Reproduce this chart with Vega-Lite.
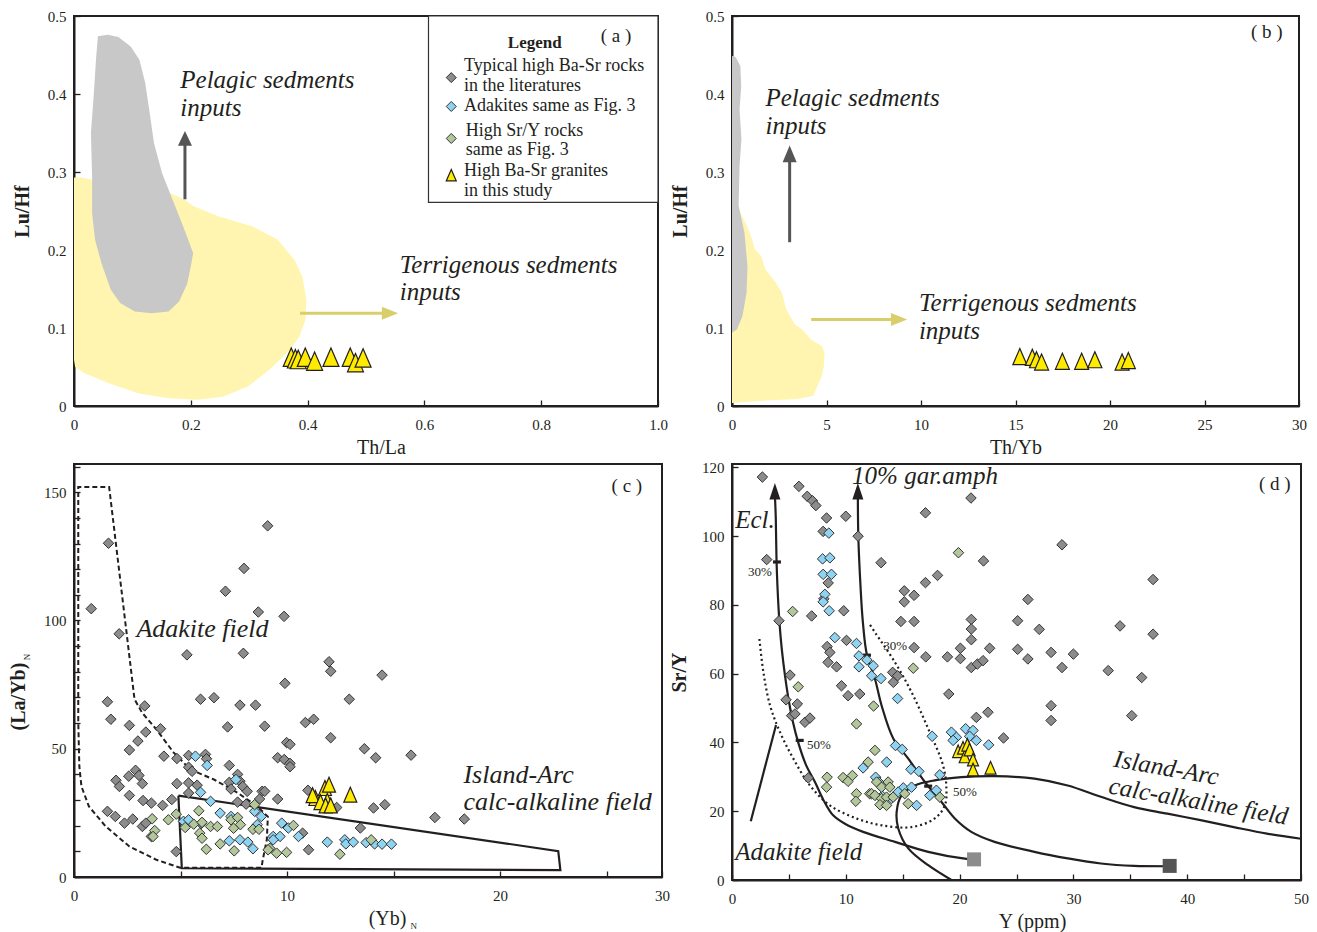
{
  "$schema": "https://vega.github.io/schema/vega-lite/v6.json",
  "background": "white",
  "padding": {"left": 7, "top": 8, "right": 10, "bottom": 5},
  "config": {
    "font": "Liberation Serif",
    "view": {"stroke": "#231f20", "strokeWidth": 2},
    "axis": {"grid": false, "domainColor": "#231f20", "domainWidth": 2, "tickColor": "#231f20", "tickWidth": 1.3, "tickSize": -6, "labelPadding": 14, "labelFontSize": 15, "labelColor": "#231f20", "labelFlush": false, "labelOverlap": false, "titleFontSize": 20, "titleColor": "#231f20", "titleFontWeight": "normal"},
    "axisY": {"titleFontWeight": "bold", "titlePadding": 15},
    "axisX": {"titlePadding": 5, "labelPadding": 17},
    "text": {"color": "#231f20"}
  },
  "columns": 2,
  "bounds": "flush",
  "spacing": {"row": 58, "column": 70},
  "concat": [
    {
      "width": 584,
      "height": 390,
      "encoding": {
        "x": {"field": "x", "type": "quantitative", "scale": {"domain": [0, 1], "nice": false, "zero": false}, "axis": {"title": "Th/La", "titleX": 307, "values": [0, 0.2, 0.4, 0.6, 0.8, 1], "labelExpr": "datum.value == 0 ? '0' : format(datum.value, '.1f')"}},
        "y": {"field": "y", "type": "quantitative", "scale": {"domain": [0, 0.5], "nice": false, "zero": false}, "axis": {"title": "Lu/Hf", "values": [0, 0.1, 0.2, 0.3, 0.4, 0.5], "labelExpr": "datum.value == 0 ? '0' : format(datum.value, '.1f')"}}
      },
      "layer": [
        {
          "data": {"values": [{"x":0,"y":0.293},{"x":0.014,"y":0.293},{"x":0.03,"y":0.29},{"x":0.1,"y":0.28},{"x":0.165,"y":0.273},{"x":0.19,"y":0.264},{"x":0.205,"y":0.256},{"x":0.248,"y":0.243},{"x":0.306,"y":0.23},{"x":0.349,"y":0.213},{"x":0.378,"y":0.187},{"x":0.391,"y":0.166},{"x":0.398,"y":0.136},{"x":0.396,"y":0.11},{"x":0.386,"y":0.089},{"x":0.37,"y":0.072},{"x":0.334,"y":0.046},{"x":0.298,"y":0.025},{"x":0.255,"y":0.012},{"x":0.212,"y":0.008},{"x":0.162,"y":0.01},{"x":0.111,"y":0.016},{"x":0.061,"y":0.029},{"x":0.018,"y":0.042},{"x":0.002,"y":0.05},{"x":0,"y":0.059}]},
          "mark": {"type": "line", "fill": "#fff5b1", "strokeWidth": 0},
          "encoding": {"order": {"value": null}}
        },
        {
          "data": {"values": [{"x":0.041,"y":0.474},{"x":0.058,"y":0.476},{"x":0.076,"y":0.473},{"x":0.097,"y":0.461},{"x":0.112,"y":0.444},{"x":0.122,"y":0.414},{"x":0.129,"y":0.379},{"x":0.137,"y":0.337},{"x":0.151,"y":0.298},{"x":0.169,"y":0.264},{"x":0.187,"y":0.23},{"x":0.204,"y":0.196},{"x":0.201,"y":0.183},{"x":0.194,"y":0.157},{"x":0.18,"y":0.134},{"x":0.162,"y":0.121},{"x":0.133,"y":0.119},{"x":0.104,"y":0.121},{"x":0.079,"y":0.132},{"x":0.063,"y":0.149},{"x":0.047,"y":0.183},{"x":0.036,"y":0.213},{"x":0.031,"y":0.247},{"x":0.031,"y":0.294},{"x":0.029,"y":0.35},{"x":0.034,"y":0.401},{"x":0.038,"y":0.448}]},
          "mark": {"type": "line", "fill": "#c8c8c8", "strokeWidth": 0},
          "encoding": {"order": {"value": null}}
        },
        {
          "data": {"values": [{"x":0.19,"y":0.265,"x2":0.19,"y2":0.34}]},
          "mark": {"type": "rule", "stroke": "#555555", "strokeWidth": 3},
          "encoding": {"x2": {"field": "x2"}, "y2": {"field": "y2"}}
        },
        {
          "data": {"values": [{"x":0.19,"y":0.3526}]},
          "mark": {"type": "point", "shape": "M0,0L-1,2.1L1,2.1Z", "filled": true, "fill": "#555555", "strokeWidth": 0, "size": 196, "opacity": 1}
        },
        {
          "data": {"values": [{"x":0.387,"y":0.119,"x2":0.535,"y2":0.119}]},
          "mark": {"type": "rule", "stroke": "#d8cf6c", "strokeWidth": 3},
          "encoding": {"x2": {"field": "x2"}, "y2": {"field": "y2"}}
        },
        {
          "data": {"values": [{"x":0.555,"y":0.119}]},
          "mark": {"type": "point", "shape": "M0,0L-2.5,-1L-2.5,1Z", "filled": true, "fill": "#d8cf6c", "strokeWidth": 0, "size": 169, "opacity": 1}
        },
        {
          "data": {"values": [{"x":0.182,"y":0.4175,"t":"Pelagic sedments"},{"x":0.182,"y":0.3825,"t":"inputs"},{"x":0.5577,"y":0.1805,"t":"Terrigenous sedments"},{"x":0.5577,"y":0.1456,"t":"inputs"}]},
          "mark": {"type": "text", "fontStyle": "italic", "fontSize": 25, "align": "left", "baseline": "middle"},
          "encoding": {"text": {"field": "t"}}
        },
        {
          "data": {"values": [{"x":0.372,"y":0.061},{"x":0.379,"y":0.059},{"x":0.384,"y":0.058},{"x":0.396,"y":0.061},{"x":0.412,"y":0.056},{"x":0.44,"y":0.061},{"x":0.473,"y":0.061},{"x":0.482,"y":0.054},{"x":0.495,"y":0.06}]},
          "mark": {"type": "point", "shape": "M0,-1.3L-1,1L1,1Z", "filled": true, "fill": "#ffeb00", "stroke": "#231f20", "strokeWidth": 1.2, "size": 256, "opacity": 1}
        },
        {
          "data": {"values": [{"x":0.607,"x2":1,"y":0.261,"y2":0.5}]},
          "mark": {"type": "rect", "fill": "white", "stroke": "#333333", "strokeWidth": 1.2},
          "encoding": {"x2": {"field": "x2"}, "y2": {"field": "y2"}}
        },
        {
          "data": {"values": [{"x":0.646,"y":0.421,"g":"lit"},{"x":0.646,"y":0.384,"g":"ada"},{"x":0.646,"y":0.343,"g":"srY"}]},
          "mark": {"type": "point", "shape": "diamond", "filled": true, "stroke": "#333333", "strokeWidth": 1, "size": 100, "opacity": 1},
          "encoding": {"fill": {"field": "g", "type": "nominal", "scale": {"domain": ["lit", "ada", "srY"], "range": ["#8c8c8c", "#8fd3f2", "#b3c89a"]}, "legend": null}}
        },
        {
          "data": {"values": [{"x":0.646,"y":0.295}]},
          "mark": {"type": "point", "shape": "M0,-1.3L-1,1L1,1Z", "filled": true, "fill": "#ffeb00", "stroke": "#231f20", "strokeWidth": 1.2, "size": 100, "opacity": 1}
        },
        {
          "data": {"values": [{"x":0.668,"y":0.436,"t":"Typical high Ba-Sr rocks"},{"x":0.668,"y":0.41,"t":"in the literatures"},{"x":0.668,"y":0.384,"t":"Adakites same as Fig. 3"},{"x":0.671,"y":0.353,"t":"High Sr/Y rocks"},{"x":0.671,"y":0.328,"t":"same as Fig. 3"},{"x":0.668,"y":0.301,"t":"High Ba-Sr granites"},{"x":0.668,"y":0.276,"t":"in this study"}]},
          "mark": {"type": "text", "fontSize": 18, "align": "left", "baseline": "middle"},
          "encoding": {"text": {"field": "t"}}
        },
        {
          "data": {"values": [{"x":0.789,"y":0.466,"t":"Legend"}]},
          "mark": {"type": "text", "fontSize": 17, "fontWeight": "bold", "align": "center", "baseline": "middle"},
          "encoding": {"text": {"field": "t"}}
        },
        {
          "data": {"values": [{"x":0.928,"y":0.474,"t":"( a )"}]},
          "mark": {"type": "text", "fontSize": 19, "align": "center", "baseline": "middle"},
          "encoding": {"text": {"field": "t"}}
        }
      ]
    },
    {
      "width": 567,
      "height": 390,
      "encoding": {
        "x": {"field": "x", "type": "quantitative", "scale": {"domain": [0, 30], "nice": false, "zero": false}, "axis": {"title": "Th/Yb", "values": [0, 5, 10, 15, 20, 25, 30]}},
        "y": {"field": "y", "type": "quantitative", "scale": {"domain": [0, 0.5], "nice": false, "zero": false}, "axis": {"title": "Lu/Hf", "values": [0, 0.1, 0.2, 0.3, 0.4, 0.5], "labelExpr": "datum.value == 0 ? '0' : format(datum.value, '.1f')"}}
      },
      "layer": [
        {
          "data": {"values": [{"x":0,"y":0.246},{"x":0.44,"y":0.248},{"x":0.77,"y":0.232},{"x":1.06,"y":0.214},{"x":1.21,"y":0.201},{"x":1.55,"y":0.192},{"x":1.77,"y":0.175},{"x":2.32,"y":0.158},{"x":2.65,"y":0.145},{"x":2.87,"y":0.124},{"x":3.31,"y":0.105},{"x":3.75,"y":0.097},{"x":4.19,"y":0.085},{"x":4.75,"y":0.077},{"x":4.9,"y":0.068},{"x":4.86,"y":0.051},{"x":4.75,"y":0.038},{"x":4.53,"y":0.026},{"x":4.3,"y":0.013},{"x":3.53,"y":0.009},{"x":1.77,"y":0.007},{"x":0.66,"y":0.005},{"x":0,"y":0.004}]},
          "mark": {"type": "line", "fill": "#fff5b1", "strokeWidth": 0},
          "encoding": {"order": {"value": null}}
        },
        {
          "data": {"values": [{"x":0,"y":0.449},{"x":0.2,"y":0.447},{"x":0.44,"y":0.436},{"x":0.49,"y":0.41},{"x":0.4,"y":0.38},{"x":0.5,"y":0.342},{"x":0.4,"y":0.308},{"x":0.35,"y":0.257},{"x":0.66,"y":0.222},{"x":0.82,"y":0.179},{"x":0.77,"y":0.145},{"x":0.55,"y":0.115},{"x":0.26,"y":0.098},{"x":0,"y":0.094}]},
          "mark": {"type": "line", "fill": "#c8c8c8", "strokeWidth": 0},
          "encoding": {"order": {"value": null}}
        },
        {
          "data": {"values": [{"x":3.05,"y":0.21,"x2":3.05,"y2":0.315}]},
          "mark": {"type": "rule", "stroke": "#555555", "strokeWidth": 3},
          "encoding": {"x2": {"field": "x2"}, "y2": {"field": "y2"}}
        },
        {
          "data": {"values": [{"x":3.05,"y":0.334}]},
          "mark": {"type": "point", "shape": "M0,0L-1,2.4L1,2.4Z", "filled": true, "fill": "#555555", "strokeWidth": 0, "size": 196, "opacity": 1}
        },
        {
          "data": {"values": [{"x":4.19,"y":0.111,"x2":8.5,"y2":0.111}]},
          "mark": {"type": "rule", "stroke": "#d8cf6c", "strokeWidth": 3},
          "encoding": {"x2": {"field": "x2"}, "y2": {"field": "y2"}}
        },
        {
          "data": {"values": [{"x":9.27,"y":0.111}]},
          "mark": {"type": "point", "shape": "M0,0L-2.5,-1L-2.5,1Z", "filled": true, "fill": "#d8cf6c", "strokeWidth": 0, "size": 169, "opacity": 1}
        },
        {
          "data": {"values": [{"x":1.77,"y":0.3944,"t":"Pelagic sedments"},{"x":1.77,"y":0.3592,"t":"inputs"},{"x":9.89,"y":0.1316,"t":"Terrigenous sedments"},{"x":9.89,"y":0.0966,"t":"inputs"}]},
          "mark": {"type": "text", "fontStyle": "italic", "fontSize": 25, "align": "left", "baseline": "middle"},
          "encoding": {"text": {"field": "t"}}
        },
        {
          "data": {"values": [{"x":15.23,"y":0.062},{"x":15.89,"y":0.061},{"x":16.11,"y":0.058},{"x":16.38,"y":0.055},{"x":17.48,"y":0.056},{"x":18.5,"y":0.056},{"x":19.2,"y":0.058},{"x":20.64,"y":0.055},{"x":20.97,"y":0.057}]},
          "mark": {"type": "point", "shape": "M0,-1.3L-1,1L1,1Z", "filled": true, "fill": "#ffeb00", "stroke": "#231f20", "strokeWidth": 1.2, "size": 196, "opacity": 1}
        },
        {
          "data": {"values": [{"x":28.3,"y":0.479,"t":"( b )"}]},
          "mark": {"type": "text", "fontSize": 19, "align": "center", "baseline": "middle"},
          "encoding": {"text": {"field": "t"}}
        }
      ]
    },
    {
      "width": 588,
      "height": 413,
      "encoding": {
        "x": {"field": "x", "type": "quantitative", "scale": {"domain": [0, 27.6], "nice": false, "zero": false}, "axis": {"title": "(Yb)", "titleX": 313, "values": [0, 5, 10, 15, 20, 25, 27.6], "labelExpr": "datum.value > 27 ? '30' : (datum.value % 10 == 0 ? datum.label : '')"}},
        "y": {"field": "y", "type": "quantitative", "scale": {"domain": [0, 161], "nice": false, "zero": false}, "axis": {"title": "(La/Yb)", "titleY": 232, "values": [0, 10, 20, 30, 40, 50, 60, 70, 80, 90, 100, 110, 120, 130, 140, 150, 160], "labelExpr": "datum.value % 50 == 0 ? datum.label : ''"}}
      },
      "layer": [
        {
          "data": {"values": [{"x":0.2,"y":60.8},{"x":0.2,"y":152},{"x":1.65,"y":152},{"x":2.84,"y":69.3},{"x":3.2,"y":64},{"x":3.86,"y":57.6},{"x":4.67,"y":48.6},{"x":5.46,"y":41.9},{"x":6.57,"y":38.0},{"x":7.67,"y":32.9},{"x":8.62,"y":27.4},{"x":9.1,"y":23.5},{"x":9.05,"y":14.5},{"x":8.86,"y":6.7},{"x":8.8,"y":3.6},{"x":4.98,"y":3.6},{"x":3.87,"y":6.7},{"x":2.6,"y":11.9},{"x":1.49,"y":19.7},{"x":0.7,"y":27.5},{"x":0.35,"y":35.3},{"x":0.25,"y":43.2},{"x":0.2,"y":60.8}]},
          "mark": {"type": "line", "stroke": "#231f20", "strokeWidth": 2, "strokeDash": [5, 3]},
          "encoding": {"order": {"value": null}}
        },
        {
          "data": {"values": [{"x":4.9,"y":31.7},{"x":22.73,"y":10.1},{"x":22.83,"y":2.7},{"x":5.06,"y":3.4},{"x":4.9,"y":31.7}]},
          "mark": {"type": "line", "stroke": "#231f20", "strokeWidth": 2.2},
          "encoding": {"order": {"value": null}}
        },
        {
          "data": {"values": [
            {"x":9.09,"y":136.9,"g":"lit"},{"x":1.62,"y":130.1,"g":"lit"},{"x":7.98,"y":120.3,"g":"lit"},{"x":7.11,"y":111.4,"g":"lit"},{"x":0.81,"y":104.6,"g":"lit"},{"x":8.65,"y":103.3,"g":"lit"},{"x":9.86,"y":101.6,"g":"lit"},{"x":2.12,"y":94.8,"g":"lit"},{"x":5.3,"y":86.6,"g":"lit"},{"x":7.95,"y":87.2,"g":"lit"},{"x":11.97,"y":83.9,"g":"lit"},{"x":12.05,"y":80.2,"g":"lit"},{"x":14.46,"y":78.7,"g":"lit"},{"x":9.9,"y":75.5,"g":"lit"},{"x":1.57,"y":68.3,"g":"lit"},{"x":3.32,"y":66.7,"g":"lit"},{"x":5.94,"y":69.3,"g":"lit"},{"x":6.57,"y":69.9,"g":"lit"},{"x":7.79,"y":67.0,"g":"lit"},{"x":8.52,"y":67.0,"g":"lit"},{"x":12.92,"y":69.3,"g":"lit"},{"x":1.73,"y":61.5,"g":"lit"},{"x":10.86,"y":60.2,"g":"lit"},{"x":11.25,"y":61.5,"g":"lit"},{"x":2.6,"y":59.1,"g":"lit"},{"x":3.37,"y":56.5,"g":"lit"},{"x":4.06,"y":57.8,"g":"lit"},{"x":7.21,"y":58.5,"g":"lit"},{"x":8.95,"y":58.8,"g":"lit"},{"x":3.0,"y":53.0,"g":"lit"},{"x":12.05,"y":54.3,"g":"lit"},{"x":9.98,"y":52.4,"g":"lit"},{"x":10.14,"y":51.7,"g":"lit"},{"x":13.63,"y":50.0,"g":"lit"},{"x":2.6,"y":49.5,"g":"lit"},{"x":4.22,"y":47.1,"g":"lit"},{"x":4.83,"y":46.2,"g":"lit"},{"x":5.38,"y":47.4,"g":"lit"},{"x":6.17,"y":47.8,"g":"lit"},{"x":6.22,"y":46.1,"g":"lit"},{"x":9.56,"y":46.5,"g":"lit"},{"x":9.87,"y":45.8,"g":"lit"},{"x":10.14,"y":44.3,"g":"lit"},{"x":10.14,"y":43.0,"g":"lit"},{"x":14.16,"y":46.5,"g":"lit"},{"x":15.82,"y":47.5,"g":"lit"},{"x":5.38,"y":42.8,"g":"lit"},{"x":5.54,"y":41.2,"g":"lit"},{"x":7.29,"y":43.5,"g":"lit"},{"x":7.68,"y":40.0,"g":"lit"},{"x":2.89,"y":41.6,"g":"lit"},{"x":3.05,"y":39.6,"g":"lit"},{"x":1.97,"y":37.7,"g":"lit"},{"x":2.13,"y":35.3,"g":"lit"},{"x":2.57,"y":39.3,"g":"lit"},{"x":3.21,"y":36.4,"g":"lit"},{"x":4.83,"y":36.4,"g":"lit"},{"x":5.38,"y":36.7,"g":"lit"},{"x":5.78,"y":35.8,"g":"lit"},{"x":7.29,"y":36.9,"g":"lit"},{"x":7.79,"y":37.3,"g":"lit"},{"x":7.92,"y":35.3,"g":"lit"},{"x":8.13,"y":33.4,"g":"lit"},{"x":7.37,"y":34.3,"g":"lit"},{"x":8.83,"y":33.4,"g":"lit"},{"x":8.71,"y":30.4,"g":"lit"},{"x":5.38,"y":32.7,"g":"lit"},{"x":2.6,"y":31.8,"g":"lit"},{"x":3.24,"y":29.8,"g":"lit"},{"x":3.63,"y":28.8,"g":"lit"},{"x":4.16,"y":27.9,"g":"lit"},{"x":4.59,"y":30.2,"g":"lit"},{"x":7.68,"y":29.2,"g":"lit"},{"x":8.08,"y":28.4,"g":"lit"},{"x":1.57,"y":25.6,"g":"lit"},{"x":1.94,"y":23.6,"g":"lit"},{"x":2.37,"y":21.0,"g":"lit"},{"x":2.76,"y":22.6,"g":"lit"},{"x":3.21,"y":19.7,"g":"lit"},{"x":3.37,"y":21.0,"g":"lit"},{"x":3.63,"y":15.8,"g":"lit"},{"x":4.8,"y":9.9,"g":"lit"},{"x":5.97,"y":20.8,"g":"lit"},{"x":8.95,"y":33.4,"g":"lit"},{"x":9.56,"y":30.4,"g":"lit"},{"x":10.98,"y":33.8,"g":"lit"},{"x":12.33,"y":27.1,"g":"lit"},{"x":14.06,"y":26.9,"g":"lit"},{"x":14.59,"y":28.2,"g":"lit"},{"x":16.94,"y":23.2,"g":"lit"},{"x":18.32,"y":22.6,"g":"lit"},{"x":13.44,"y":19.1,"g":"lit"},{"x":10.73,"y":17.1,"g":"lit"},{"x":11.01,"y":10.6,"g":"lit"},
            {"x":5.7,"y":47.1,"g":"ada"},{"x":6.25,"y":43.5,"g":"ada"},{"x":7.6,"y":38.0,"g":"ada"},{"x":5.94,"y":33.0,"g":"ada"},{"x":6.41,"y":29.5,"g":"ada"},{"x":8.48,"y":25.6,"g":"ada"},{"x":8.79,"y":23.6,"g":"ada"},{"x":6.86,"y":24.9,"g":"ada"},{"x":7.37,"y":23.6,"g":"ada"},{"x":5.14,"y":21.7,"g":"ada"},{"x":5.38,"y":22.3,"g":"ada"},{"x":8.6,"y":20.4,"g":"ada"},{"x":7.29,"y":14.1,"g":"ada"},{"x":7.79,"y":14.5,"g":"ada"},{"x":8.16,"y":13.6,"g":"ada"},{"x":8.4,"y":11.0,"g":"ada"},{"x":9.35,"y":15.8,"g":"ada"},{"x":9.75,"y":21.0,"g":"ada"},{"x":10.06,"y":19.1,"g":"ada"},{"x":9.67,"y":15.8,"g":"ada"},{"x":9.35,"y":14.5,"g":"ada"},{"x":10.54,"y":15.8,"g":"ada"},{"x":11.89,"y":13.6,"g":"ada"},{"x":12.71,"y":14.5,"g":"ada"},{"x":12.76,"y":12.9,"g":"ada"},{"x":13.11,"y":13.6,"g":"ada"},{"x":13.71,"y":13.4,"g":"ada"},{"x":14.11,"y":12.9,"g":"ada"},{"x":14.46,"y":12.8,"g":"ada"},{"x":14.9,"y":12.8,"g":"ada"},
            {"x":5.86,"y":25.8,"g":"srY"},{"x":3.67,"y":22.7,"g":"srY"},{"x":4.43,"y":22.3,"g":"srY"},{"x":4.8,"y":24.5,"g":"srY"},{"x":5.22,"y":19.3,"g":"srY"},{"x":5.62,"y":20.6,"g":"srY"},{"x":6.01,"y":21.3,"g":"srY"},{"x":6.41,"y":19.7,"g":"srY"},{"x":6.73,"y":19.7,"g":"srY"},{"x":3.79,"y":18.1,"g":"srY"},{"x":3.71,"y":15.8,"g":"srY"},{"x":5.9,"y":17.1,"g":"srY"},{"x":6.01,"y":15.1,"g":"srY"},{"x":7.37,"y":22.3,"g":"srY"},{"x":7.68,"y":23.2,"g":"srY"},{"x":7.81,"y":20.4,"g":"srY"},{"x":7.49,"y":19.0,"g":"srY"},{"x":8.4,"y":18.6,"g":"srY"},{"x":8.68,"y":18.6,"g":"srY"},{"x":8.48,"y":28.2,"g":"srY"},{"x":6.21,"y":10.8,"g":"srY"},{"x":6.86,"y":12.9,"g":"srY"},{"x":7.52,"y":10.2,"g":"srY"},{"x":9.19,"y":11.2,"g":"srY"},{"x":10.3,"y":20.1,"g":"srY"},{"x":12.48,"y":8.9,"g":"srY"},{"x":13.95,"y":14.5,"g":"srY"},{"x":9.11,"y":10.6,"g":"srY"},{"x":9.51,"y":9.3,"g":"srY"},{"x":9.98,"y":9.6,"g":"srY"}
          ]},
          "mark": {"type": "point", "shape": "diamond", "filled": true, "stroke": "#333333", "strokeWidth": 1, "size": 110, "opacity": 1},
          "encoding": {"fill": {"field": "g", "type": "nominal", "scale": {"domain": ["lit", "ada", "srY"], "range": ["#8c8c8c", "#8fd3f2", "#b3c89a"]}, "legend": null}}
        },
        {
          "data": {"values": [{"x":11.33,"y":30.4},{"x":11.2,"y":31.5},{"x":11.78,"y":34.3},{"x":11.97,"y":35.6},{"x":11.89,"y":29.3},{"x":11.57,"y":28.8},{"x":11.81,"y":27.5},{"x":12.05,"y":27.5},{"x":12.97,"y":31.7}]},
          "mark": {"type": "point", "shape": "M0,-1.3L-1,1L1,1Z", "filled": true, "fill": "#ffeb00", "stroke": "#231f20", "strokeWidth": 1.2, "size": 169, "opacity": 1}
        },
        {
          "data": {"values": [{"x":2.93,"y":96.8,"t":"Adakite field"},{"x":18.28,"y":39.9,"t":"Island-Arc"},{"x":18.28,"y":29.4,"t":"calc-alkaline field"}]},
          "mark": {"type": "text", "fontStyle": "italic", "fontSize": 26, "align": "left", "baseline": "middle"},
          "encoding": {"text": {"field": "t"}}
        },
        {
          "data": {"values": [{"x":25.95,"y":152.3,"t":"( c )"}]},
          "mark": {"type": "text", "fontSize": 19, "align": "center", "baseline": "middle"},
          "encoding": {"text": {"field": "t"}}
        },
        {
          "data": {"values": [{"x":15.8,"y":-19.2,"t":"N"}]},
          "mark": {"type": "text", "fontSize": 9, "align": "left", "baseline": "middle"},
          "encoding": {"text": {"field": "t"}}
        },
        {
          "data": {"values": [{"x":-2.2,"y":85.8,"t":"N"}]},
          "mark": {"type": "text", "fontSize": 9, "angle": 270, "align": "center", "baseline": "middle"},
          "encoding": {"text": {"field": "t"}}
        }
      ]
    },
    {
      "width": 569,
      "height": 416,
      "encoding": {
        "x": {"field": "x", "type": "quantitative", "scale": {"domain": [0, 50], "nice": false, "zero": false}, "axis": {"title": "Y (ppm)", "titleX": 300, "values": [0, 5, 10, 15, 20, 25, 30, 35, 40, 45, 50], "labelExpr": "datum.value % 10 == 0 ? datum.label : ''"}},
        "y": {"field": "y", "type": "quantitative", "scale": {"domain": [0, 121], "nice": false, "zero": false}, "axis": {"title": "Sr/Y", "titlePadding": 12, "values": [0, 20, 40, 60, 80, 100, 120]}}
      },
      "layer": [
        {
          "data": {"values": [{"x":2.41,"y":70.1},{"x":2.76,"y":60.4},{"x":3.35,"y":50.7},{"x":4.22,"y":43.0},{"x":5.39,"y":35.3},{"x":6.85,"y":27.5},{"x":8.6,"y":21.7},{"x":10.94,"y":17.9},{"x":13.15,"y":15.9},{"x":15.78,"y":15.4},{"x":17.82,"y":17.9},{"x":18.7,"y":21.7},{"x":18.84,"y":26.6},{"x":18.55,"y":33.3},{"x":17.24,"y":44.0},{"x":15.78,"y":54.6},{"x":14.32,"y":63.3},{"x":12.57,"y":72.0},{"x":11.99,"y":74.9}]},
          "mark": {"type": "line", "stroke": "#231f20", "strokeWidth": 2.2, "strokeDash": [2, 3], "interpolate": "catmull-rom"},
          "encoding": {"order": {"value": null}}
        },
        {
          "data": {"values": [{"x":19.28,"y":0},{"x":17.24,"y":4.3},{"x":15.49,"y":9.2},{"x":14.61,"y":15.0},{"x":14.47,"y":19.8},{"x":14.9,"y":24.6},{"x":16.07,"y":27.5},{"x":17.82,"y":29.0},{"x":20.16,"y":29.9},{"x":23.07,"y":30.2},{"x":26.58,"y":29.5},{"x":29.5,"y":27.5},{"x":32.42,"y":24.2},{"x":35.33,"y":21.2},{"x":38.26,"y":19.3},{"x":41.17,"y":17.4},{"x":44.09,"y":15.4},{"x":47.0,"y":13.5},{"x":50,"y":12.0}]},
          "mark": {"type": "line", "stroke": "#231f20", "strokeWidth": 2.2, "interpolate": "catmull-rom"},
          "encoding": {"order": {"value": null}}
        },
        {
          "data": {"values": [{"x":3.77,"y":112},{"x":3.85,"y":105},{"x":3.91,"y":93.2},{"x":4.0,"y":85},{"x":4.16,"y":75.4},{"x":4.38,"y":67},{"x":4.66,"y":59.4},{"x":5.0,"y":52},{"x":5.35,"y":46},{"x":5.81,"y":40.1},{"x":6.5,"y":33.5},{"x":7.29,"y":28.5},{"x":8.0,"y":23.5},{"x":8.89,"y":18.8},{"x":10.0,"y":16.2},{"x":11.52,"y":14.0},{"x":14.32,"y":11.1},{"x":17.24,"y":8.2},{"x":20.45,"y":6.2},{"x":21.27,"y":6.0}]},
          "mark": {"type": "line", "stroke": "#231f20", "strokeWidth": 2.2, "interpolate": "catmull-rom"},
          "encoding": {"order": {"value": null}}
        },
        {
          "data": {"values": [{"x":11.06,"y":112},{"x":11.1,"y":100},{"x":11.3,"y":85},{"x":11.5,"y":75},{"x":11.86,"y":65.4},{"x":12.57,"y":58.4},{"x":13.15,"y":50.7},{"x":14.18,"y":41.1},{"x":15.49,"y":35.3},{"x":16.95,"y":28.5},{"x":18.41,"y":22.7},{"x":19.58,"y":17.9},{"x":21.03,"y":14.0},{"x":23.07,"y":11.1},{"x":26.58,"y":8.2},{"x":29.5,"y":6.3},{"x":32.42,"y":4.8},{"x":35.33,"y":4.1},{"x":38.46,"y":4.0}]},
          "mark": {"type": "line", "stroke": "#231f20", "strokeWidth": 2.2, "interpolate": "catmull-rom"},
          "encoding": {"order": {"value": null}}
        },
        {
          "data": {"values": [{"x":1.65,"y":17.1},{"x":3.87,"y":45.1}]},
          "mark": {"type": "line", "stroke": "#231f20", "strokeWidth": 2.2},
          "encoding": {"order": {"value": null}}
        },
        {
          "data": {"values": [{"x":3.77,"y":115.5},{"x":11.06,"y":115.5}]},
          "mark": {"type": "point", "shape": "M0,0L-1,3L1,3Z", "filled": true, "fill": "#231f20", "strokeWidth": 0, "size": 121, "opacity": 1}
        },
        {
          "data": {"values": [{"x":3.95,"y":92.5},{"x":5.95,"y":40.6},{"x":11.86,"y":65.4},{"x":17.24,"y":27.3}]},
          "mark": {"type": "point", "shape": "M-1,-0.4L1,-0.4L1,0.4L-1,0.4Z", "filled": true, "fill": "#231f20", "strokeWidth": 0, "size": 64, "opacity": 1}
        },
        {
          "data": {"values": [{"x":21.27,"y":6.0}]},
          "mark": {"type": "point", "shape": "square", "filled": true, "fill": "#8c8c8c", "strokeWidth": 0, "size": 196, "opacity": 1}
        },
        {
          "data": {"values": [{"x":38.46,"y":4.1}]},
          "mark": {"type": "point", "shape": "square", "filled": true, "fill": "#555555", "strokeWidth": 0, "size": 196, "opacity": 1}
        },
        {
          "data": {"values": [
            {"x":2.67,"y":117.2,"g":"lit"},{"x":5.88,"y":114.5,"g":"lit"},{"x":6.61,"y":111.6,"g":"lit"},{"x":7.08,"y":110.3,"g":"lit"},{"x":7.37,"y":108.9,"g":"lit"},{"x":8.31,"y":105.3,"g":"lit"},{"x":10.0,"y":105.8,"g":"lit"},{"x":8.01,"y":101.4,"g":"lit"},{"x":11.08,"y":100.0,"g":"lit"},{"x":3.05,"y":93.2,"g":"lit"},{"x":8.45,"y":86.4,"g":"lit"},{"x":8.07,"y":81.8,"g":"lit"},{"x":9.82,"y":78.3,"g":"lit"},{"x":7.0,"y":76.8,"g":"lit"},{"x":4.13,"y":75.4,"g":"lit"},{"x":10.06,"y":69.7,"g":"lit"},{"x":8.36,"y":67.9,"g":"lit"},{"x":8.6,"y":66.2,"g":"lit"},{"x":8.44,"y":63.3,"g":"lit"},{"x":9.19,"y":62.0,"g":"lit"},{"x":5.1,"y":59.6,"g":"lit"},{"x":9.62,"y":56.5,"g":"lit"},{"x":10.2,"y":53.6,"g":"lit"},{"x":11.23,"y":54.1,"g":"lit"},{"x":4.75,"y":52.4,"g":"lit"},{"x":5.74,"y":51.2,"g":"lit"},{"x":5.24,"y":47.8,"g":"lit"},{"x":5.53,"y":48.3,"g":"lit"},{"x":6.41,"y":45.9,"g":"lit"},{"x":6.85,"y":47.1,"g":"lit"},{"x":6.7,"y":29.7,"g":"lit"},
            {"x":21.0,"y":111.1,"g":"lit"},{"x":17.0,"y":106.8,"g":"lit"},{"x":22.1,"y":92.8,"g":"lit"},{"x":13.1,"y":92.3,"g":"lit"},{"x":18.06,"y":88.6,"g":"lit"},{"x":17.0,"y":86.5,"g":"lit"},{"x":15.14,"y":84.1,"g":"lit"},{"x":16.0,"y":82.8,"g":"lit"},{"x":15.14,"y":80.9,"g":"lit"},{"x":14.84,"y":75.2,"g":"lit"},{"x":16.0,"y":75.2,"g":"lit"},{"x":21.03,"y":75.8,"g":"lit"},{"x":21.03,"y":73.0,"g":"lit"},{"x":21.03,"y":69.9,"g":"lit"},{"x":16.0,"y":67.6,"g":"lit"},{"x":17.03,"y":64.9,"g":"lit"},{"x":18.93,"y":64.9,"g":"lit"},{"x":20.07,"y":67.4,"g":"lit"},{"x":20.07,"y":64.4,"g":"lit"},{"x":22.64,"y":67.4,"g":"lit"},{"x":21.03,"y":61.8,"g":"lit"},{"x":21.56,"y":62.8,"g":"lit"},{"x":22.06,"y":63.8,"g":"lit"},{"x":19.05,"y":54.1,"g":"lit"},{"x":14.12,"y":60.4,"g":"lit"},{"x":14.55,"y":59.4,"g":"lit"},{"x":14.18,"y":57.5,"g":"lit"},{"x":21.47,"y":47.3,"g":"lit"},{"x":22.49,"y":48.8,"g":"lit"},{"x":23.86,"y":41.3,"g":"lit"},
            {"x":29.0,"y":97.5,"g":"lit"},{"x":37.0,"y":87.4,"g":"lit"},{"x":26.0,"y":81.6,"g":"lit"},{"x":25.1,"y":75.4,"g":"lit"},{"x":27.0,"y":72.9,"g":"lit"},{"x":34.1,"y":73.9,"g":"lit"},{"x":37.0,"y":71.5,"g":"lit"},{"x":25.1,"y":67.1,"g":"lit"},{"x":26.0,"y":64.3,"g":"lit"},{"x":28.04,"y":66.2,"g":"lit"},{"x":30.0,"y":65.7,"g":"lit"},{"x":29.0,"y":61.8,"g":"lit"},{"x":33.06,"y":60.9,"g":"lit"},{"x":36.0,"y":58.9,"g":"lit"},{"x":28.04,"y":50.7,"g":"lit"},{"x":28.04,"y":46.4,"g":"lit"},{"x":35.13,"y":47.8,"g":"lit"},
            {"x":8.51,"y":100.9,"g":"ada"},{"x":7.96,"y":93.4,"g":"ada"},{"x":8.6,"y":93.7,"g":"ada"},{"x":8.01,"y":88.9,"g":"ada"},{"x":8.74,"y":88.9,"g":"ada"},{"x":8.16,"y":83.1,"g":"ada"},{"x":8.01,"y":80.9,"g":"ada"},{"x":8.54,"y":78.3,"g":"ada"},{"x":9.04,"y":70.5,"g":"ada"},{"x":10.94,"y":68.8,"g":"ada"},{"x":11.16,"y":65.2,"g":"ada"},{"x":11.86,"y":64.0,"g":"ada"},{"x":11.16,"y":62.0,"g":"ada"},{"x":11.52,"y":32.6,"g":"ada"},{"x":12.41,"y":62.3,"g":"ada"},{"x":12.27,"y":59.4,"g":"ada"},{"x":13.09,"y":58.6,"g":"ada"},{"x":14.55,"y":52.8,"g":"ada"},{"x":17.59,"y":41.8,"g":"ada"},{"x":19.28,"y":43.0,"g":"ada"},{"x":19.72,"y":41.5,"g":"ada"},{"x":19.43,"y":40.6,"g":"ada"},{"x":20.53,"y":44.0,"g":"ada"},{"x":21.18,"y":43.5,"g":"ada"},{"x":21.47,"y":40.6,"g":"ada"},{"x":20.88,"y":41.8,"g":"ada"},{"x":22.55,"y":39.3,"g":"ada"},{"x":14.37,"y":39.1,"g":"ada"},{"x":14.96,"y":38.0,"g":"ada"},{"x":15.72,"y":32.2,"g":"ada"},{"x":16.42,"y":31.6,"g":"ada"},{"x":18.26,"y":30.6,"g":"ada"},{"x":13.59,"y":34.3,"g":"ada"},{"x":12.62,"y":29.9,"g":"ada"},{"x":12.9,"y":28.5,"g":"ada"},{"x":15.05,"y":26.8,"g":"ada"},{"x":15.78,"y":27.0,"g":"ada"},{"x":16.22,"y":21.7,"g":"ada"},{"x":17.38,"y":24.6,"g":"ada"},{"x":17.96,"y":26.1,"g":"ada"},{"x":13.2,"y":24.4,"g":"ada"},{"x":14.01,"y":23.7,"g":"ada"},{"x":14.6,"y":25.6,"g":"ada"},
            {"x":5.33,"y":78.1,"g":"srY"},{"x":5.82,"y":56.2,"g":"srY"},{"x":10.94,"y":45.4,"g":"srY"},{"x":8.36,"y":29.9,"g":"srY"},{"x":8.31,"y":27.0,"g":"srY"},{"x":9.76,"y":29.8,"g":"srY"},{"x":10.2,"y":28.7,"g":"srY"},{"x":10.58,"y":30.4,"g":"srY"},{"x":10.94,"y":25.1,"g":"srY"},{"x":10.88,"y":22.9,"g":"srY"},{"x":11.96,"y":34.3,"g":"srY"},{"x":12.1,"y":25.1,"g":"srY"},{"x":19.9,"y":95.2,"g":"srY"},{"x":15.93,"y":61.6,"g":"srY"},{"x":12.44,"y":50.6,"g":"srY"},{"x":12.56,"y":37.7,"g":"srY"},{"x":12.71,"y":28.5,"g":"srY"},{"x":13.14,"y":27.0,"g":"srY"},{"x":13.72,"y":28.5,"g":"srY"},{"x":13.87,"y":27.0,"g":"srY"},{"x":12.27,"y":25.1,"g":"srY"},{"x":12.56,"y":24.6,"g":"srY"},{"x":13.14,"y":23.7,"g":"srY"},{"x":13.58,"y":24.1,"g":"srY"},{"x":14.16,"y":24.1,"g":"srY"},{"x":13.0,"y":21.9,"g":"srY"},{"x":13.58,"y":21.7,"g":"srY"},{"x":15.18,"y":25.1,"g":"srY"},{"x":15.48,"y":22.2,"g":"srY"},{"x":18.26,"y":24.1,"g":"srY"}
          ]},
          "mark": {"type": "point", "shape": "diamond", "filled": true, "stroke": "#333333", "strokeWidth": 1, "size": 110, "opacity": 1},
          "encoding": {"fill": {"field": "g", "type": "nominal", "scale": {"domain": ["lit", "ada", "srY"], "range": ["#8c8c8c", "#8fd3f2", "#b3c89a"]}, "legend": null}}
        },
        {
          "data": {"values": [{"x":19.87,"y":37.2},{"x":20.3,"y":38.2},{"x":20.45,"y":35.7},{"x":20.68,"y":39.1},{"x":20.88,"y":37.7},{"x":21.18,"y":34.8},{"x":21.18,"y":31.9},{"x":22.72,"y":32.4}]},
          "mark": {"type": "point", "shape": "M0,-1.3L-1,1L1,1Z", "filled": true, "fill": "#ffeb00", "stroke": "#231f20", "strokeWidth": 1.2, "size": 121, "opacity": 1}
        },
        {
          "data": {"values": [{"x":0.28,"y":104.8,"t":"Ecl."},{"x":10.55,"y":117.6,"t":"10% gar.amph"},{"x":0.28,"y":8.2,"t":"Adakite field"}]},
          "mark": {"type": "text", "fontStyle": "italic", "fontSize": 25, "align": "left", "baseline": "middle"},
          "encoding": {"text": {"field": "t"}}
        },
        {
          "data": {"values": [{"x":1.4,"y":89.6,"t":"30%"},{"x":6.6,"y":39.3,"t":"50%"},{"x":13.3,"y":68.1,"t":"30%"},{"x":19.43,"y":25.6,"t":"50%"}]},
          "mark": {"type": "text", "fontSize": 13, "align": "left", "baseline": "middle"},
          "encoding": {"text": {"field": "t"}}
        },
        {
          "data": {"values": [{"x":33.58,"y":35.3,"t":"Island-Arc"},{"x":33.15,"y":27.5,"t":"calc-alkaline field"}]},
          "mark": {"type": "text", "fontStyle": "italic", "fontSize": 25, "align": "left", "baseline": "middle", "angle": 10},
          "encoding": {"text": {"field": "t"}}
        },
        {
          "data": {"values": [{"x":47.7,"y":115.1,"t":"( d )"}]},
          "mark": {"type": "text", "fontSize": 19, "align": "center", "baseline": "middle"},
          "encoding": {"text": {"field": "t"}}
        }
      ]
    }
  ]
}
